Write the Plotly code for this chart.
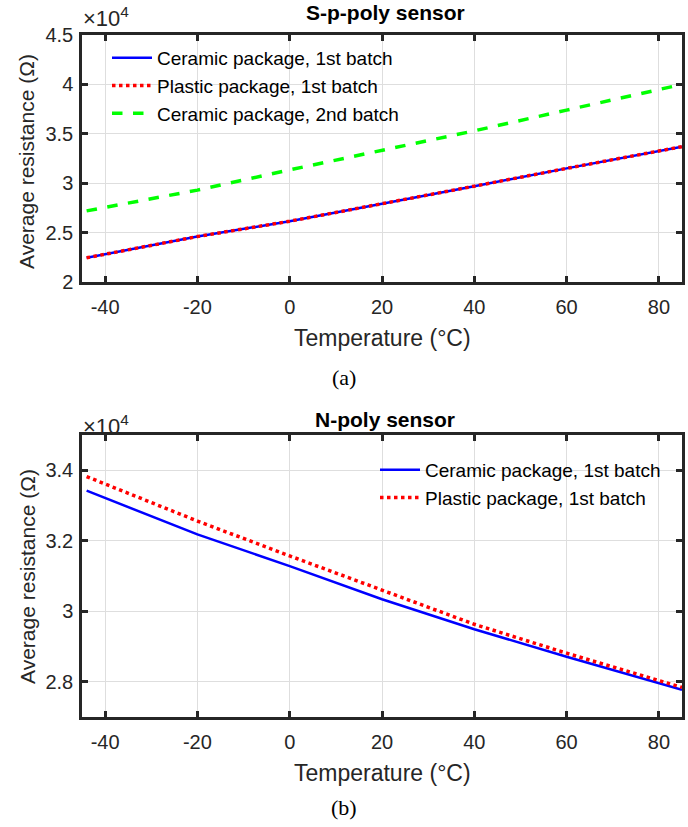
import plotly.graph_objects as go

# ---- data (ohms) ----
temp = [-44, -20, 0, 20, 40, 60, 85]
top_ceramic_1st = [22450, 24600, 26150, 27900, 29700, 31500, 33700]
top_plastic_1st = [22450, 24600, 26150, 27900, 29700, 31500, 33700]
top_ceramic_2nd = [27200, 29300, 31350, 33300, 35300, 37400, 40000]

bot_ceramic_1st = [33420, 32180, 31280, 30340, 29490, 28710, 27770]
bot_plastic_1st = [33820, 32560, 31570, 30600, 29630, 28810, 27840]

x_ticks = [-40, -20, 0, 20, 40, 60, 80]
x_ticktext = ["-40", "-20", "0", "20", "40", "60", "80"]
top_yticks = [20000, 25000, 30000, 35000, 40000, 45000]
top_ytext = ["2", "2.5", "3", "3.5", "4", "4.5"]
bot_yticks = [28000, 30000, 32000, 34000]
bot_ytext = ["2.8", "3", "3.2", "3.4"]

W, H = 688, 827
FONT = "Liberation Sans"
AX = "#262626"

def px(x):
    return x / W

def py(y):
    return 1 - y / H

fig = go.Figure()

# top panel
fig.add_trace(go.Scatter(x=temp, y=top_ceramic_1st, mode="lines", name="Ceramic package, 1st batch",
                         line=dict(color="#0000ff", width=2.5), xaxis="x", yaxis="y", legend="legend"))
fig.add_trace(go.Scatter(x=temp, y=top_plastic_1st, mode="lines", name="Plastic package, 1st batch",
                         line=dict(color="#ff0000", width=3.5, dash="dot"), xaxis="x", yaxis="y", legend="legend"))
fig.add_trace(go.Scatter(x=temp, y=top_ceramic_2nd, mode="lines", name="Ceramic package, 2nd batch",
                         line=dict(color="#00ff00", width=3.5, dash="dash"), xaxis="x", yaxis="y", legend="legend"))
# bottom panel
fig.add_trace(go.Scatter(x=temp, y=bot_ceramic_1st, mode="lines", name="Ceramic package, 1st batch",
                         line=dict(color="#0000ff", width=2.5), xaxis="x2", yaxis="y2", legend="legend2"))
fig.add_trace(go.Scatter(x=temp, y=bot_plastic_1st, mode="lines", name="Plastic package, 1st batch",
                         line=dict(color="#ff0000", width=3.5, dash="dot"), xaxis="x2", yaxis="y2", legend="legend2"))

axis_common = dict(showline=True, linecolor=AX, linewidth=2.5, mirror="ticks", ticks="inside",
                   ticklen=6, tickwidth=2.5, tickcolor=AX, showgrid=True, gridcolor="#dedede",
                   gridwidth=1.2, zeroline=False, automargin=False,
                   tickfont=dict(family=FONT, size=20, color=AX))

xdom = [px(82), px(682)]
fig.update_layout(
    width=W, height=H, margin=dict(l=0, r=0, t=0, b=0, autoexpand=False),
    paper_bgcolor="white", plot_bgcolor="white",
    xaxis=dict(domain=xdom, range=[-45, 85], tickvals=x_ticks, ticktext=x_ticktext, anchor="y",
               ticklabelstandoff=5, **axis_common),
    yaxis=dict(domain=[py(282), py(35)], range=[20000, 45000], tickvals=top_yticks, ticktext=top_ytext,
               anchor="x", ticklabelstandoff=2, **axis_common),
    xaxis2=dict(domain=xdom, range=[-45, 85], tickvals=x_ticks, ticktext=x_ticktext, anchor="y2",
                ticklabelstandoff=5, **axis_common),
    yaxis2=dict(domain=[py(717), py(435)], range=[27000, 35000], tickvals=bot_yticks, ticktext=bot_ytext,
                anchor="x2", ticklabelstandoff=2, **axis_common),
    legend=dict(x=px(107), y=py(39), xanchor="left", yanchor="top", bgcolor="rgba(0,0,0,0)",
                font=dict(family=FONT, size=19, color="black"), tracegroupgap=0, itemwidth=40),
    legend2=dict(x=px(375), y=py(451), xanchor="left", yanchor="top", bgcolor="rgba(0,0,0,0)",
                 font=dict(family=FONT, size=19, color="black"), tracegroupgap=0, itemwidth=40),
    showlegend=True,
)

ann = []
# titles
ann.append(dict(text="<b>S-p-poly sensor</b>", x=px(385), y=py(12), xref="paper", yref="paper",
                xanchor="center", yanchor="middle", showarrow=False,
                font=dict(family=FONT, size=21, color="black")))
ann.append(dict(text="<b>N-poly sensor</b>", x=px(385), y=py(419), xref="paper", yref="paper",
                xanchor="center", yanchor="middle", showarrow=False,
                font=dict(family=FONT, size=21, color="black")))
# exponent labels
for yy in (17, 425):
    ann.append(dict(text="×10<sup>4</sup>", x=px(81), y=py(yy), xref="paper", yref="paper",
                    xanchor="left", yanchor="middle", showarrow=False,
                    font=dict(family=FONT, size=22, color=AX)))
# axis titles
for yy in (338, 773):
    ann.append(dict(text="Temperature (°C)", x=px(382), y=py(yy), xref="paper", yref="paper",
                    xanchor="center", yanchor="middle", showarrow=False,
                    font=dict(family=FONT, size=23, color=AX)))
for yy in (162, 577):
    ann.append(dict(text="Average resistance (Ω)", x=px(27), y=py(yy), xref="paper", yref="paper",
                    xanchor="center", yanchor="middle", textangle=-90, showarrow=False,
                    font=dict(family=FONT, size=21, color=AX)))
# panel labels
ann.append(dict(text="(a)", x=px(344), y=py(377), xref="paper", yref="paper",
                xanchor="center", yanchor="middle", showarrow=False,
                font=dict(family="Liberation Serif", size=22, color="black")))
ann.append(dict(text="(b)", x=px(344), y=py(807), xref="paper", yref="paper",
                xanchor="center", yanchor="middle", showarrow=False,
                font=dict(family="Liberation Serif", size=22, color="black")))
fig.update_layout(annotations=ann)

fig.write_html("out.html")
